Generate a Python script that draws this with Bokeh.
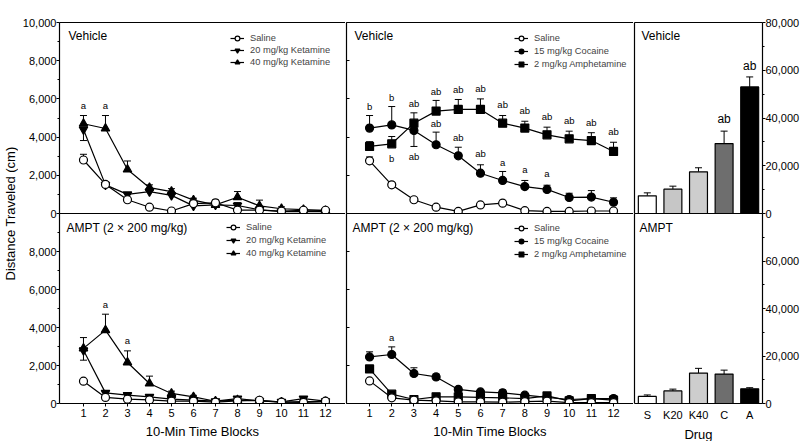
import math
from bokeh.plotting import figure
from bokeh.models import (Range1d, FactorRange, LinearAxis, CategoricalAxis, FixedTicker,
                          NumeralTickFormatter, ColumnDataSource, Whisker, TeeHead,
                          Legend, LegendItem, Label)
from bokeh.layouts import row, column
from bokeh.core.properties import value
from bokeh.embed import file_html
from bokeh.resources import INLINE

FONT = "Liberation Sans"

# ---------------------------------------------------------------- data
blocks = [1, 2, 3, 4, 5, 6, 7, 8, 9, 10, 11, 12]

# Vehicle pretreatment - ketamine (distance in cm per block); SEM < 0 means bar drawn downward
veh_k_saline = [2800, 1520, 720, 330, 130, 520, 560, 180, 170, 120, 170, 170]
veh_k_saline_sem = [300, 150, 120, 80, 60, 100, 150, 60, 50, 40, 50, 50]
veh_k20 = [4400, 1500, 1000, 1150, 950, 400, 450, 420, 200, 100, 100, 100]
veh_k20_sem = [-580, 150, 100, 150, 120, 80, 80, 150, 80, 50, 50, 50]
veh_k40 = [4700, 4450, 2300, 1350, 1150, 700, 450, 850, 400, 250, 200, 150]
veh_k40_sem = [430, 680, 450, 150, 150, 100, 80, 300, 300, 100, 80, 60]
veh_k_sig_x = [1, 2]
veh_k_sig_y = [5650, 5650]
veh_k_sig = ["a", "a"]

# Vehicle pretreatment - cocaine / amphetamine
veh_p_saline = [2760, 1500, 720, 330, 110, 450, 540, 150, 110, 110, 130, 130]
veh_p_saline_sem = [200, 120, 80, 60, 40, 100, 150, 40, 30, 30, 40, 40]
veh_coc = [4470, 4640, 4350, 3600, 3020, 2110, 1730, 1410, 1260, 840, 860, 590]
veh_coc_sem = [660, 960, -840, 660, 450, 440, 470, 320, 220, 220, 340, 230]
veh_amph = [3510, 3650, 4730, 5360, 5450, 5450, 4730, 4470, 4120, 3910, 3820, 3250]
veh_amph_sem = [250, 380, 540, 560, 520, 550, 400, 360, 400, 400, 410, 480]
veh_p_sig_x = [1, 2, 2, 3, 3, 4, 4, 5, 5, 6, 6, 7, 7, 8, 8, 9, 9, 10, 11, 12]
veh_p_sig_y = [5600, 6090, 2900, 5780, 2980, 6400, 4700, 6470, 4000, 6520, 3120,
               5690, 2650, 5390, 2290, 5100, 2080, 4870, 4780, 4290]
veh_p_sig = ["b", "b", "b", "ab", "ab", "ab", "ab", "ab", "ab", "ab", "ab",
             "ab", "a", "ab", "a", "ab", "a", "ab", "ab", "ab"]

# AMPT pretreatment - ketamine
ampt_k_saline = [1175, 320, 230, 190, 120, 120, 70, 140, 170, 70, 60, 120]
ampt_k_saline_sem = [100, 60, 50, 40, 30, 30, 30, 40, 40, 30, 30, 30]
ampt_k20 = [2800, 560, 440, 350, 230, 180, 120, 260, 140, 90, 260, 120]
ampt_k20_sem = [-520, 100, 80, 80, 60, 50, 40, 100, 50, 40, 80, 40]
ampt_k40 = [2900, 3860, 2160, 1050, 530, 350, 120, 180, 140, 70, 100, 90]
ampt_k40_sem = [570, 840, 610, 390, 120, 80, 40, 50, 40, 30, 30, 30]
ampt_k_sig_x = [2, 3]
ampt_k_sig_y = [5230, 3300]
ampt_k_sig = ["a", "a"]

# AMPT pretreatment - cocaine / amphetamine
ampt_p_saline = [1190, 300, 180, 140, 90, 90, 70, 100, 120, 50, 50, 50]
ampt_p_saline_sem = [100, 50, 40, 30, 30, 30, 30, 30, 30, 30, 30, 30]
ampt_coc = [2450, 2580, 1580, 1400, 740, 610, 560, 440, 320, 210, 260, 260]
ampt_coc_sem = [270, 400, 300, 150, 120, 100, 150, 80, 60, 50, 60, 60]
ampt_amph = [1820, 490, 210, 350, 350, 320, 300, 260, 400, 140, 260, 175]
ampt_amph_sem = [150, 80, 50, 60, 80, 60, 60, 60, 60, 40, 60, 50]
ampt_p_sig_x = [2]
ampt_p_sig_y = [3500]
ampt_p_sig = ["a"]

# Total distance (cm) by drug
drugs = ["S", "K20", "K40", "C", "A"]
veh_total = [7400, 10200, 17450, 29300, 53000]
veh_total_sem = [1250, 1250, 1700, 5200, 4200]
veh_total_sig_x = ["C", "A"]
veh_total_sig_y = [39500, 61850]
veh_total_sig = ["ab", "ab"]
ampt_total = [3000, 5300, 12800, 12400, 6200]
ampt_total_sem = [600, 750, 2000, 1650, 450]

y_ticks_full = [0, 2000, 4000, 6000, 8000, 10000]
y_ticks_low = [0, 2000, 4000, 6000, 8000]
y_minor = [1000, 3000, 5000, 7000, 9000]
bar_ticks_full = [0, 20000, 40000, 60000, 80000]
bar_ticks_low = [0, 20000, 40000, 60000]
bar_minor = [10000, 30000, 50000, 70000]

# ---------------------------------------------------------------- styles / geometry
bar_colors = ["#ffffff", "#c6c6c6", "#cdcdcd", "#6e6e6e", "#000000"]
LW = 1.2
FW_L = 286      # left line panel frame width
FW_M = 287      # middle line panel frame width
RW = 128        # bar panel frame width
FH_T = 191      # top frame height
FH_B = 190      # bottom frame height
TOP_B = 22
OVL = 8         # overlap of bottom row onto top row's bottom border
LEFT_B = 41
RIGHT_B = 37
BOT_B = 37
YL_W = 18
COL_H = (TOP_B + FH_T + OVL) + (FH_B + BOT_B) - OVL


def bare_axis(cls=LinearAxis):
    return cls(ticker=FixedTicker(ticks=[]), major_tick_out=0, major_tick_in=0,
               minor_tick_out=0, minor_tick_in=0, major_label_standoff=0,
               axis_line_color="black", axis_line_width=LW)


def style_axis(ax, fs="11px"):
    ax.axis_line_color = "black"
    ax.axis_line_width = LW
    ax.major_tick_line_color = "black"
    ax.minor_tick_line_color = "black"
    ax.major_label_text_font = FONT
    ax.major_label_text_font_size = fs
    ax.major_label_text_color = "black"
    ax.axis_label_text_font = FONT
    ax.axis_label_text_font_size = "13px"
    ax.axis_label_text_font_style = "normal"
    ax.axis_label_text_color = "black"


def add_err(p, xs, ys, es):
    up = dict(base=[], lower=[], upper=[])
    dn = dict(base=[], lower=[], upper=[])
    for x, y, e in zip(xs, ys, es):
        if e >= 0:
            up["base"].append(x); up["lower"].append(y); up["upper"].append(y + e)
        else:
            dn["base"].append(x); dn["lower"].append(y + e); dn["upper"].append(y)
    for d, side in ((up, "upper"), (dn, "lower")):
        if not d["base"]:
            continue
        tee = TeeHead(size=7, line_color="black", line_width=1)
        w = Whisker(source=ColumnDataSource(d), base="base", lower="lower", upper="upper",
                    line_color="black", line_width=1, level="underlay",
                    upper_head=tee if side == "upper" else None,
                    lower_head=tee if side == "lower" else None)
        p.add_layout(w)


def base_fig(top, fw, xr, yr, left_b, right_b, y_loc):
    kw = dict(frame_width=fw, frame_height=FH_T if top else FH_B, x_range=xr, y_range=yr,
              x_axis_location=None if top else "below", y_axis_location=y_loc,
              min_border_left=left_b, min_border_right=right_b,
              min_border_top=TOP_B if top else 0, min_border_bottom=OVL if top else BOT_B,
              toolbar_location=None, output_backend="svg", title=None,
              outline_line_color=None)
    if not top:
        kw.update(margin=(-OVL, 0, 0, 0), border_fill_color=None, background_fill_color=None)
    p = figure(**kw)
    p.xgrid.grid_line_color = None
    p.ygrid.grid_line_color = None
    return p


def line_panel(top, left_col, xr, panel_name, name_dx, series, sig, leg_loc, leg_sp):
    p = base_fig(top, FW_L if left_col else FW_M, xr, Range1d(0, 10000),
                 LEFT_B if left_col else 1, 0, "left")
    ya = p.yaxis[0]
    style_axis(ya)
    if left_col:
        ya.ticker = FixedTicker(ticks=y_ticks_full if top else y_ticks_low, minor_ticks=y_minor)
        ya.formatter = NumeralTickFormatter(format="0,0")
        ya.major_tick_out = 3
        ya.major_tick_in = 0
        ya.minor_tick_out = 2
        ya.minor_tick_in = 0
        ya.major_label_standoff = 0
    else:
        # tick marks only (no labels) on the shared inner axis
        ya.ticker = FixedTicker(ticks=[], minor_ticks=y_ticks_full if top else y_ticks_low)
        ya.major_tick_out = 0
        ya.major_tick_in = 0
        ya.minor_tick_out = 0
        ya.minor_tick_in = 3
        ya.major_label_standoff = 0
    if top:
        p.add_layout(bare_axis(), "above")
        p.add_layout(bare_axis(), "below")
    else:
        xa = p.xaxis[0]
        style_axis(xa)
        xa.ticker = FixedTicker(ticks=blocks)
        xa.major_tick_out = 3
        xa.major_tick_in = 0
        xa.minor_tick_out = 0
        xa.minor_tick_in = 0
        xa.major_label_standoff = 2
        xa.axis_label = "10-Min Time Blocks"
        xa.axis_label_standoff = 4

    for ys, es, *_ in series:
        add_err(p, blocks, ys, es)
    srcs = [ColumnDataSource(dict(x=blocks, y=ys)) for ys, *_ in series]
    lines = [p.line("x", "y", source=s, line_color="black", line_width=LW) for s in srcs]
    marks = [None] * len(series)
    for i in reversed(range(len(series))):
        _, _, mk, fill, sz, lab = series[i]
        marks[i] = p.scatter("x", "y", source=srcs[i], marker=mk, size=sz,
                             fill_color=fill, line_color="black", line_width=1.2)
    items = [LegendItem(label=value(series[i][5]), renderers=[lines[i], marks[i]])
             for i in range(len(series))]
    leg = Legend(items=items, location=leg_loc, orientation="vertical",
                 border_line_color=None, background_fill_alpha=0, padding=0, margin=0,
                 spacing=leg_sp, glyph_width=14, glyph_height=12, label_height=12,
                 label_standoff=6, label_text_font=FONT, label_text_font_size="9.3px",
                 label_text_baseline="middle")
    p.add_layout(leg)

    sx, sy, st = sig
    p.text(x=sx, y=sy, text=st, text_font=value(FONT), text_font_size="9.5px",
           text_align="center", text_baseline="middle", text_color="black")

    p.add_layout(Label(x=xr.start, y=10000, x_offset=name_dx, y_offset=-13 if top else -14,
                       text=panel_name, text_font=FONT, text_font_size="12px",
                       text_baseline="middle", text_color="black"))
    return p


def bar_panel(top, totals, sems, panel_name, name_dx, sig):
    p = base_fig(top, RW, FactorRange(factors=drugs), Range1d(0, 80000), 1, RIGHT_B, "right")
    ya = p.yaxis[0]
    style_axis(ya)
    ya.ticker = FixedTicker(ticks=bar_ticks_full if top else bar_ticks_low, minor_ticks=bar_minor)
    ya.formatter = NumeralTickFormatter(format="0,0")
    ya.major_tick_out = 3
    ya.major_tick_in = 0
    ya.minor_tick_out = 2
    ya.minor_tick_in = 0
    ya.major_label_standoff = 0
    p.add_layout(bare_axis(), "left")
    if top:
        p.add_layout(bare_axis(CategoricalAxis), "above")
        p.add_layout(bare_axis(CategoricalAxis), "below")
    else:
        xa = p.xaxis[0]
        style_axis(xa)
        xa.major_tick_out = 3
        xa.major_tick_in = 0
        xa.major_tick_line_color = None
        xa.major_label_standoff = 2
        xa.axis_label = "Drug"
        xa.axis_label_standoff = 3

    add_err(p, drugs, totals, sems)
    src = ColumnDataSource(dict(drug=drugs, total=totals, color=bar_colors))
    p.vbar(x="drug", top="total", width=0.7, source=src, fill_color="color",
           line_color="black", line_width=LW)
    if sig is not None:
        sx, sy, st = sig
        p.text(x=sx, y=sy, text=st, text_font=value(FONT), text_font_size="12px",
               text_align="center", text_baseline="middle", text_color="black")
    p.add_layout(Label(x=0, y=80000, x_offset=name_dx, y_offset=-13 if top else -14,
                       text=panel_name, text_font=FONT, text_font_size="12px",
                       text_baseline="middle", text_color="black"))
    return p


def ket_series(sal, sal_e, k20, k20_e, k40, k40_e):
    return [(sal, sal_e, "circle", "white", 8, "Saline"),
            (k20, k20_e, "inverted_triangle", "black", 8.5, "20 mg/kg Ketamine"),
            (k40, k40_e, "triangle", "black", 8.5, "40 mg/kg Ketamine")]


def psy_series(sal, sal_e, coc, coc_e, amph, amph_e):
    return [(sal, sal_e, "circle", "white", 8, "Saline"),
            (coc, coc_e, "circle", "black", 8, "15 mg/kg Cocaine"),
            (amph, amph_e, "square", "black", 8, "2 mg/kg Amphetamine")]


xr_left_t = Range1d(-0.09, 12.91)
xr_left_b = Range1d(-0.09, 12.91)
xr_mid_t = Range1d(-0.04, 12.90)
xr_mid_b = Range1d(-0.04, 12.90)

tl = line_panel(True, True, xr_left_t, "Vehicle", 9,
                ket_series(veh_k_saline, veh_k_saline_sem, veh_k20, veh_k20_sem, veh_k40, veh_k40_sem),
                (veh_k_sig_x, veh_k_sig_y, veh_k_sig), (171, 145), 0)
bl = line_panel(False, True, xr_left_b, "AMPT (2 \u00d7 200 mg/kg)", 7,
                ket_series(ampt_k_saline, ampt_k_saline_sem, ampt_k20, ampt_k20_sem, ampt_k40, ampt_k40_sem),
                (ampt_k_sig_x, ampt_k_sig_y, ampt_k_sig), (167, 144), 1)
tm = line_panel(True, False, xr_mid_t, "Vehicle", 8,
                psy_series(veh_p_saline, veh_p_saline_sem, veh_coc, veh_coc_sem, veh_amph, veh_amph_sem),
                (veh_p_sig_x, veh_p_sig_y, veh_p_sig), (168, 143), 1)
bm = line_panel(False, False, xr_mid_b, "AMPT (2 \u00d7 200 mg/kg)", 6,
                psy_series(ampt_p_saline, ampt_p_saline_sem, ampt_coc, ampt_coc_sem, ampt_amph, ampt_amph_sem),
                (ampt_p_sig_x, ampt_p_sig_y, ampt_p_sig), (168, 143), 1)
tr = bar_panel(True, veh_total, veh_total_sem, "Vehicle", 7, (veh_total_sig_x, veh_total_sig_y, veh_total_sig))
br = bar_panel(False, ampt_total, ampt_total_sem, "AMPT", 5, None)

# overall title, placed in the top border of the middle panel
tm.add_layout(Label(x=xr_mid_t.start, y=10000, x_offset=84, y_offset=12, text="Male Adolescent Rats",
                    text_align="center", text_baseline="middle", text_font=FONT,
                    text_font_size="13px", text_color="black"))

ylab = figure(width=YL_W, height=COL_H, x_range=Range1d(0, YL_W), y_range=Range1d(0, COL_H),
              x_axis_location=None, y_axis_location=None, min_border=0, outline_line_color=None,
              toolbar_location=None, output_backend="svg", title=None)
ylab.grid.visible = False
ylab.add_layout(Label(x=10, y=COL_H - (TOP_B + FH_T), text="Distance Traveled (cm)", angle=math.pi / 2,
                      text_align="center", text_baseline="middle", text_font=FONT,
                      text_font_size="13px", text_color="black"))

layout = row(ylab, column(tl, bl), column(tm, bm), column(tr, br))

with open("out.html", "w") as f:
    f.write(file_html(layout, INLINE))
